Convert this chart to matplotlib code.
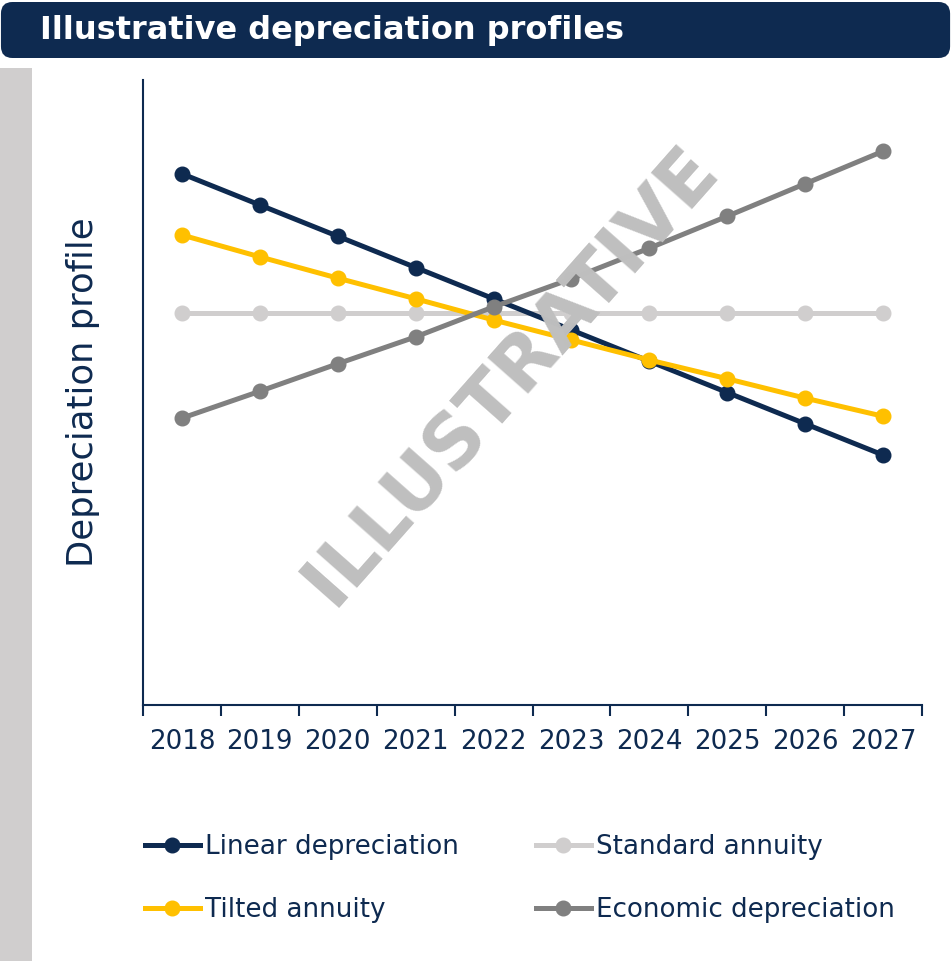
import matplotlib
matplotlib.use("Agg")
import matplotlib.pyplot as plt
from matplotlib.patches import FancyBboxPatch, Rectangle

# colours
NAVY = "#0E2A50"
YELLOW = "#FFC000"
LIGHT_GREY = "#D0CECE"
MID_GREY = "#808080"
WATERMARK = "#BFBFBF"

years = ["2018", "2019", "2020", "2021", "2022", "2023", "2024", "2025", "2026", "2027"]
linear = [8.5, 8.0, 7.5, 7.0, 6.5, 6.0, 5.5, 5.0, 4.5, 4.0]
standard = [6.27, 6.27, 6.27, 6.27, 6.27, 6.27, 6.27, 6.27, 6.27, 6.27]
tilted = [7.52, 7.17, 6.83, 6.50, 6.16, 5.84, 5.52, 5.22, 4.91, 4.62]
economic = [4.59, 5.02, 5.46, 5.89, 6.37, 6.82, 7.31, 7.82, 8.34, 8.86]

plt.rcParams['font.family'] = ['DejaVu Sans']

fig = plt.figure(figsize=(9.52, 9.61), dpi=100)

# header bar and side strip
fig.patches.append(FancyBboxPatch((0.001, 1 - 58 / 961), 0.997, 56 / 961,
                                  boxstyle="round,pad=0,rounding_size=0.012",
                                  transform=fig.transFigure, facecolor=NAVY,
                                  edgecolor="none", zorder=0))
fig.text(0.042, 1 - 31 / 961, "Illustrative depreciation profiles", color="white",
         fontsize=23, fontweight="bold", va="center", ha="left")
fig.patches.append(Rectangle((0, 0), 0.034, 1 - 68 / 961, transform=fig.transFigure,
                             facecolor=LIGHT_GREY, edgecolor="none", zorder=0))

ax = fig.add_axes([143 / 952, 1 - 705 / 961, (922 - 143) / 952, (705 - 80) / 961])
x = list(range(len(years)))

series = [
    (linear, NAVY, "Linear depreciation"),
    (tilted, YELLOW, "Tilted annuity"),
    (standard, LIGHT_GREY, "Standard annuity"),
    (economic, MID_GREY, "Economic depreciation"),
]
# draw order: standard at back, then linear, tilted, economic
zorders = {"Linear depreciation": 4, "Tilted annuity": 5,
           "Standard annuity": 2, "Economic depreciation": 6}
handles = []
for vals, col, lab in series:
    h, = ax.plot(x, vals, color=col, lw=3.6, marker="o", ms=10.5,
                 label=lab, zorder=zorders[lab])
    handles.append(h)

ax.set_xlim(-0.5, len(years) - 0.5)
ax.set_ylim(0, 10)
ax.set_yticks([])
ax.set_xticks([i - 0.5 for i in range(len(years) + 1)])
ax.set_xticklabels([])
ax.set_xticks(x, minor=True)
ax.set_xticklabels(years, minor=True)
ax.tick_params(axis="x", which="major", direction="out", length=8, width=1.5, color=NAVY)
ax.tick_params(axis="x", which="minor", length=0, pad=17, labelsize=18.8, labelcolor=NAVY)
for side in ["top", "right"]:
    ax.spines[side].set_visible(False)
for side in ["left", "bottom"]:
    ax.spines[side].set_color(NAVY)
    ax.spines[side].set_linewidth(1.5)

fig.text(83 / 952, 1 - 392 / 961, "Depreciation profile", rotation=90,
         fontsize=25.5, color=NAVY, ha="center", va="center")

leg = fig.legend(handles=handles, loc="upper left", ncol=2,
                 bbox_to_anchor=(145 / 952, 1 - 834 / 961), frameon=False,
                 fontsize=18.8, handlelength=2.1, handletextpad=0.2,
                 labelspacing=1.43, columnspacing=2.95, borderpad=0,
                 borderaxespad=0)
for t in leg.get_texts():
    t.set_color(NAVY)

fig.text(511 / 952, 1 - 376 / 961, "ILLUSTRATIVE", rotation=48.5, fontsize=54,
         fontweight="bold", color=WATERMARK, ha="center", va="center",
         rotation_mode="anchor", zorder=10)

fig.savefig("out.png", dpi=100)
